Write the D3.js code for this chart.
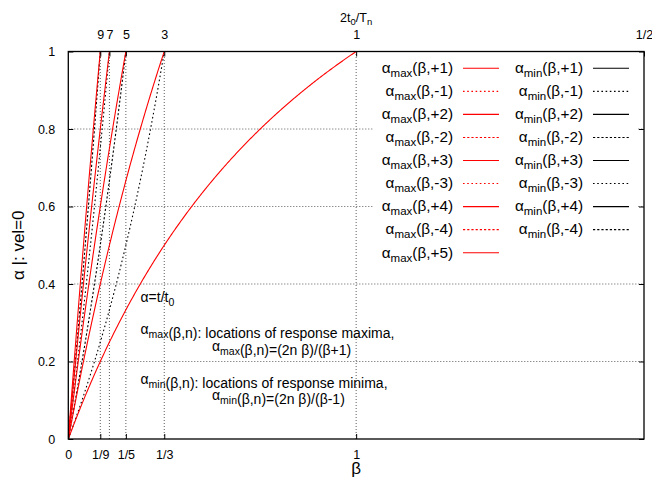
<!DOCTYPE html>
<html>
<head>
<meta charset="utf-8">
<script src="https://cdn.jsdelivr.net/npm/d3@7"></script>
<style>
  html, body { margin: 0; padding: 0; background: #fff; }
  svg { display: block; font-family: "Liberation Sans", Arial, sans-serif; }
</style>
</head>
<body>
<svg id="chart" width="652" height="477"></svg>
<script>
// ---------------- data ----------------
const xDomain = [0, 2];
const yDomain = [0, 1];
const xTickValues = [0, 1/9, 1/5, 1/3, 1];
const xTickLabels = ["0", "1/9", "1/5", "1/3", "1"];
const x2TickValues = [1/9, 1/7, 1/5, 1/3, 1, 2];
const x2TickLabels = ["9", "7", "5", "3", "1", "1/2"];
const yTickValues = [0, 0.2, 0.4, 0.6, 0.8, 1];
const yTickLabels = ["0", "0.2", "0.4", "0.6", "0.8", "1"];
const gridXValues = [1/9, 1/7, 1/5, 1/3, 1];
const gridYValues = [0.2, 0.4, 0.6, 0.8];
// curve indices n (legend order): alpha_max uses n, alpha_min uses n
const maxN = [1, -1, 2, -2, 3, -3, 4, -4, 5];
const minN = [1, -1, 2, -2, 3, -3, 4, -4];
// formulas printed on the chart
const alphaMax = (b, n) => (2 * n * b) / (b + 1);
const alphaMin = (b, n) => (2 * n * b) / (b - 1);
const nSamples = 800;

// ---------------- layout ----------------
const svg = d3.select("#chart");
const L = 68.3, R = 644, T = 51.5, B = 439;
const x = d3.scaleLinear().domain(xDomain).range([L, R]);
const y = d3.scaleLinear().domain(yDomain).range([B, T]);
const FONT = "Liberation Sans, Arial, sans-serif";

svg.append("defs").append("clipPath").attr("id", "clip")
  .append("rect").attr("x", L).attr("y", T).attr("width", R - L).attr("height", B - T);

// grid
const grid = svg.append("g").attr("stroke", "#333").attr("stroke-width", 0.8)
  .attr("stroke-dasharray", "1,2").attr("fill", "none");
grid.selectAll("line.gx").data(gridXValues).join("line")
  .attr("x1", d => x(d)).attr("x2", d => x(d)).attr("y1", B).attr("y2", T);
grid.selectAll("line.gy").data(gridYValues).join("line")
  .attr("x1", L).attr("x2", R).attr("y1", d => y(d)).attr("y2", d => y(d));

// curves
const betas = d3.range(nSamples + 1).map(i => xDomain[1] * i / nSamples);
function dashFor(n) {
  if (n > 0) return null;
  return (Math.abs(n) % 2 === 1) ? "1.6,2.6" : "2.2,2";
}
const line = d3.line().x(d => x(d[0])).y(d => y(d[1]));
const curves = svg.append("g").attr("clip-path", "url(#clip)").attr("fill", "none");
function curvePts(f, n) {
  return betas.filter(b => Math.abs(b - 1) > 1e-9)
    .map(b => [b, f(b, n)])
    .filter(p => p[1] > -0.5 && p[1] < 1.5);
}
minN.forEach(n => {
  curves.append("path").attr("d", line(curvePts(alphaMin, n)))
    .attr("stroke", "#000").attr("stroke-width", 1.1)
    .attr("stroke-dasharray", dashFor(n));
});
maxN.forEach(n => {
  curves.append("path").attr("d", line(curvePts(alphaMax, n)))
    .attr("stroke", "#ff0000").attr("stroke-width", 1.1)
    .attr("stroke-dasharray", dashFor(n));
});

// axes (ticks inward)
const tickLen = 5;
const ax = svg.append("g").attr("font-family", FONT);
const axB = d3.axisBottom(x).tickValues(xTickValues).tickSize(-tickLen)
  .tickFormat((d, i) => xTickLabels[i]).tickPadding(11);
const axT = d3.axisTop(x).tickValues(x2TickValues).tickSize(-tickLen)
  .tickFormat((d, i) => x2TickLabels[i]).tickPadding(13);
const axL = d3.axisLeft(y).tickValues(yTickValues).tickSize(-tickLen)
  .tickFormat((d, i) => yTickLabels[i]).tickPadding(13);
const axR = d3.axisRight(y).tickValues(yTickValues).tickSize(-tickLen).tickFormat("");
[[axB, `translate(0,${B})`], [axT, `translate(0,${T})`],
 [axL, `translate(${L},0)`], [axR, `translate(${R},0)`]].forEach(([a, tr]) => {
  const g = ax.append("g").attr("transform", tr).call(a);
  g.select(".domain").remove();
  g.selectAll("line").attr("stroke", "#000").attr("stroke-width", 1);
  g.selectAll("text").attr("font-size", 12.5).attr("font-family", FONT).attr("fill", "#000");
});

// legend (opaque box)
const legend = svg.append("g").attr("font-family", FONT).attr("font-size", 15.3);
legend.append("rect").attr("x", 373).attr("y", 57).attr("width", 264).attr("height", 208).attr("fill", "#fff");
const rowY0 = 68.3, rowDY = 23.05;
function addLabel(g, xr, yb, sub, n) {
  const t = g.append("text").attr("x", xr).attr("y", yb).attr("text-anchor", "end");
  t.append("tspan").text("α");
  t.append("tspan").attr("font-size", 11.5).attr("dy", 4).text(sub);
  t.append("tspan").attr("dy", -4).text("(β," + (n > 0 ? "+" + n : String(n)) + ")");
}
maxN.forEach((n, i) => {
  const cy = rowY0 + i * rowDY;
  addLabel(legend, 453, cy + 4.8, "max", n);
  legend.append("line").attr("x1", 463).attr("x2", 499).attr("y1", cy).attr("y2", cy)
    .attr("stroke", "#ff0000").attr("stroke-width", 1.1).attr("stroke-dasharray", dashFor(n));
});
minN.forEach((n, i) => {
  const cy = rowY0 + i * rowDY;
  addLabel(legend, 583, cy + 4.8, "min", n);
  legend.append("line").attr("x1", 593).attr("x2", 629).attr("y1", cy).attr("y2", cy)
    .attr("stroke", "#000").attr("stroke-width", 1.1).attr("stroke-dasharray", dashFor(n));
});

// border
svg.append("rect").attr("x", L).attr("y", T).attr("width", R - L).attr("height", B - T)
  .attr("fill", "none").attr("stroke", "#000").attr("stroke-width", 1.3);

// annotations
const ann = svg.append("g").attr("font-family", FONT).attr("font-size", 14).attr("fill", "#000");
function richText(xp, yp, parts) {
  const t = ann.append("text").attr("x", xp).attr("y", yp);
  parts.forEach(p => {
    if (p.sub) {
      t.append("tspan").attr("font-size", 10.5).attr("dy", 4).text(p.sub);
      t.append("tspan").attr("dy", -4).text("");
    } else t.append("tspan").text(p.t);
  });
  return t;
}
richText(140.5, 302, [{t: "α=t/t"}, {sub: "0"}]);
richText(140.5, 334, [{t: "α"}, {sub: "max"}, {t: "(β,n): locations of response maxima,"}]);
richText(212, 350.5, [{t: "α"}, {sub: "max"}, {t: "(β,n)=(2n β)/(β+1)"}]);
richText(140.5, 384, [{t: "α"}, {sub: "min"}, {t: "(β,n): locations of response minima,"}]);
richText(212, 400, [{t: "α"}, {sub: "min"}, {t: "(β,n)=(2n β)/(β-1)"}]);

// axis titles
const titles = svg.append("g").attr("font-family", FONT).attr("fill", "#000");
titles.append("text").attr("x", x(1)).attr("y", 474).attr("text-anchor", "middle")
  .attr("font-size", 17).text("β");
const t2 = titles.append("text").attr("x", x(1)).attr("y", 22).attr("text-anchor", "middle")
  .attr("font-size", 12.5);
t2.append("tspan").text("2t");
t2.append("tspan").attr("font-size", 9.5).attr("dy", 3).text("0");
t2.append("tspan").attr("dy", -3).text("/T");
t2.append("tspan").attr("font-size", 9.5).attr("dy", 3).text("n");
titles.append("text").attr("transform", `translate(24,${(T + B) / 2}) rotate(-90)`)
  .attr("text-anchor", "middle").attr("font-size", 17).text("α |: vel=0");
</script>
</body>
</html>
